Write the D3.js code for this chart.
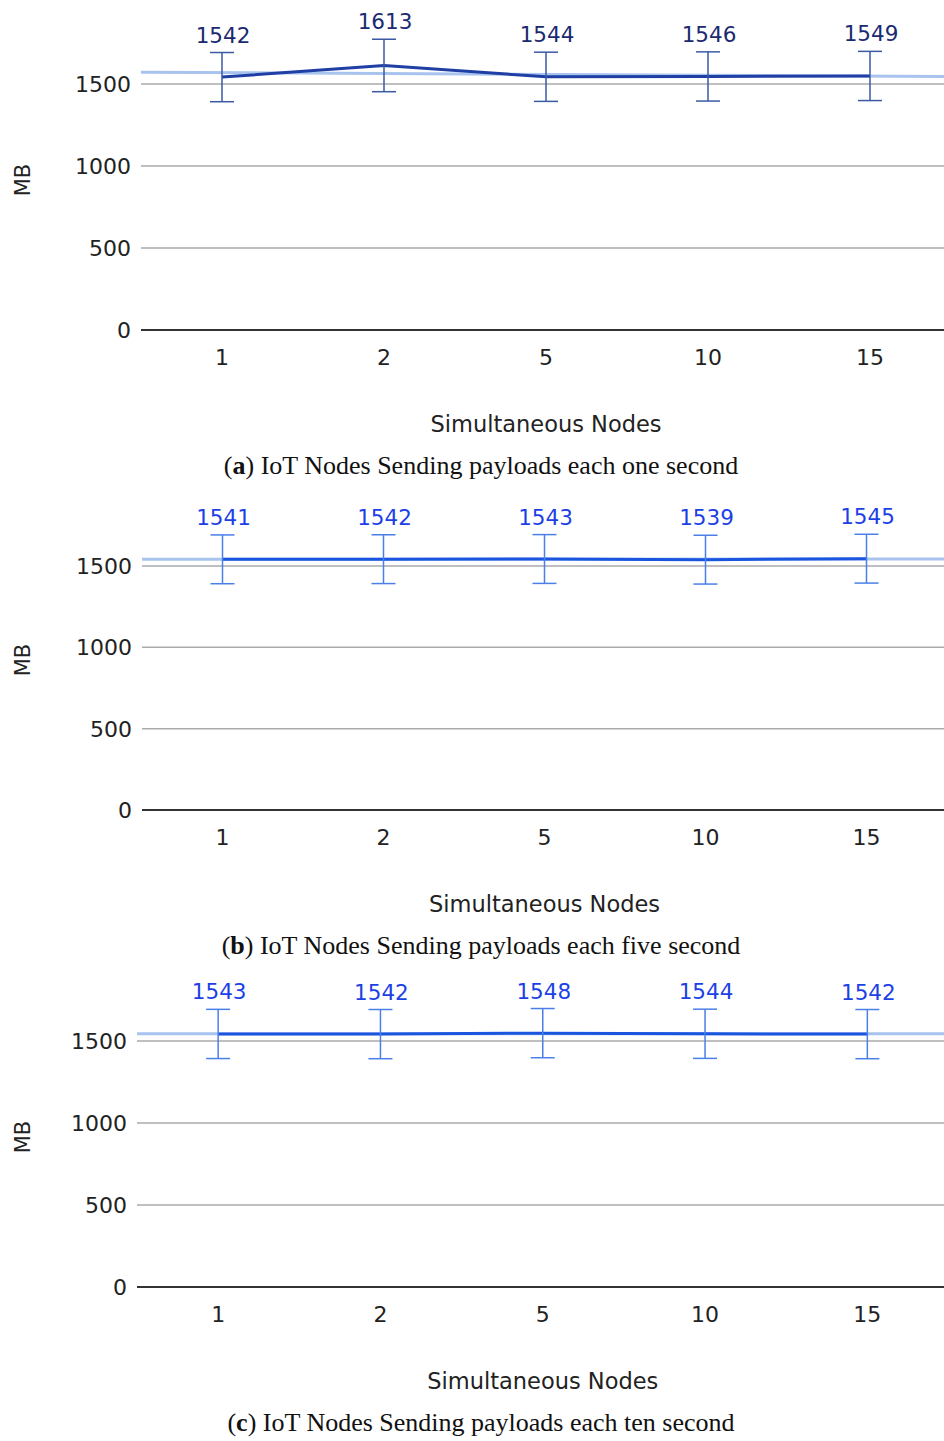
<!DOCTYPE html>
<html>
<head>
<meta charset="utf-8">
<script src="https://cdn.jsdelivr.net/npm/d3@7"></script>
<style>
  body { margin: 0; background: #fff; }
  svg { display: block; }
</style>
</head>
<body>
<div id="chart"></div>
<script>
// categories and series values
const nodes = ["1", "2", "5", "10", "15"];
const oneSecond = [1542, 1613, 1544, 1546, 1549];
const fiveSecond = [1541, 1542, 1543, 1539, 1545];
const tenSecond = [1543, 1542, 1548, 1544, 1542];
const oneSecondErr = [150, 160, 150, 150, 150];
const fiveSecondErr = [150, 150, 150, 150, 150];
const tenSecondErr = [150, 150, 150, 150, 150];
const yTicks = [0, 500, 1000, 1500];
const captions = [
    ["a", " IoT Nodes Sending payloads each one second"],
    ["b", " IoT Nodes Sending payloads each five second"],
    ["c", " IoT Nodes Sending payloads each ten second"]
];

var svgWidth = 944;
var svgHeight = 1441;

const svg = d3.select("#chart")
    .append("svg")
    .attr("width", svgWidth)
    .attr("height", svgHeight);

// one panel per sending interval
const panels = [
    { values: oneSecond, errs: oneSecondErr, caption: captions[0], zero: 330, top: 84, left: 141, step: 162,
      line: "#1f3fa4", label: "#1b2a70", err: "#3a5aa4" },
    { values: fiveSecond, errs: fiveSecondErr, caption: captions[1], zero: 810, top: 566, left: 142, step: 161,
      line: "#1a55e0", label: "#1c3fe6", err: "#4a7fe8" },
    { values: tenSecond, errs: tenSecondErr, caption: captions[2], zero: 1287, top: 1041, left: 137, step: 162.3,
      line: "#1a55e0", label: "#1c3fe6", err: "#4a7fe8" }
];

//least squares trend of the series, drawn as the light line
function trend(values) {
    const n = values.length;
    const mx = (n - 1) / 2;
    const my = d3.mean(values);
    let num = 0, den = 0;
    values.forEach((v, i) => { num += (i - mx) * (v - my); den += (i - mx) * (i - mx); });
    const slope = num / den;
    return i => my + slope * (i - mx);
}

panels.forEach(function(p) {
    const g = svg.append("g");
    const width = p.step * nodes.length;

    const x = d3.scaleBand()
        .domain(nodes)
        .range([p.left, p.left + width]);

    const y = d3.scaleLinear()
        .domain([0, 1500])
        .range([p.zero, p.top]);

    //gridlines
    g.selectAll(".grid")
        .data(yTicks)
        .enter()
        .append("line")
        .attr("x1", p.left)
        .attr("x2", p.left + width)
        .attr("y1", d => y(d))
        .attr("y2", d => y(d))
        .attr("stroke", d => d === 0 ? "#333" : "#aaa")
        .attr("stroke-width", d => d === 0 ? 2 : 1.5);

    //y tick labels
    g.selectAll(".ytick")
        .data(yTicks)
        .enter()
        .append("text")
        .attr("x", p.left - 10)
        .attr("y", d => y(d))
        .attr("dy", "0.36em")
        .attr("text-anchor", "end")
        .attr("font-family", "DejaVu Sans")
        .attr("font-size", "22px")
        .attr("fill", "#222")
        .text(d => d);

    //x tick labels
    g.selectAll(".xtick")
        .data(nodes)
        .enter()
        .append("text")
        .attr("x", d => x(d) + x.bandwidth() / 2)
        .attr("y", p.zero + 35)
        .attr("text-anchor", "middle")
        .attr("font-family", "DejaVu Sans")
        .attr("font-size", "22px")
        .attr("fill", "#222")
        .text(d => d);

    //trend line
    const t = trend(p.values);
    const tx = d3.scaleLinear().domain([0, nodes.length - 1])
        .range([x(nodes[0]) + x.bandwidth() / 2, x(nodes[nodes.length - 1]) + x.bandwidth() / 2]);
    const t0 = tx.invert(p.left);
    const t1 = tx.invert(svgWidth + 10);
    g.append("line")
        .attr("x1", tx(t0))
        .attr("x2", tx(t1))
        .attr("y1", y(t(t0)))
        .attr("y2", y(t(t1)))
        .attr("stroke", "#a9c3ef")
        .attr("stroke-width", 3);

    //series line
    const pts = p.values.map((v, i) => ({ node: nodes[i], v: v, e: p.errs[i] }));
    g.append("path")
        .datum(pts)
        .attr("fill", "none")
        .attr("stroke", p.line)
        .attr("stroke-width", 3)
        .attr("d", d3.line()
            .x(d => x(d.node) + x.bandwidth() / 2)
            .y(d => y(d.v)));

    //error bars
    const bars = g.selectAll(".err")
        .data(pts)
        .enter()
        .append("g")
        .attr("stroke", p.err)
        .attr("stroke-width", 1.5);
    bars.append("line")
        .attr("x1", d => x(d.node) + x.bandwidth() / 2)
        .attr("x2", d => x(d.node) + x.bandwidth() / 2)
        .attr("y1", d => y(d.v + d.e))
        .attr("y2", d => y(d.v - d.e));
    bars.append("line")
        .attr("x1", d => x(d.node) + x.bandwidth() / 2 - 12)
        .attr("x2", d => x(d.node) + x.bandwidth() / 2 + 12)
        .attr("y1", d => y(d.v + d.e))
        .attr("y2", d => y(d.v + d.e));
    bars.append("line")
        .attr("x1", d => x(d.node) + x.bandwidth() / 2 - 12)
        .attr("x2", d => x(d.node) + x.bandwidth() / 2 + 12)
        .attr("y1", d => y(d.v - d.e))
        .attr("y2", d => y(d.v - d.e));

    //value labels
    g.selectAll(".val")
        .data(pts)
        .enter()
        .append("text")
        .attr("x", d => x(d.node) + x.bandwidth() / 2 + 1)
        .attr("y", d => y(d.v + d.e) - 10)
        .attr("text-anchor", "middle")
        .attr("font-family", "DejaVu Sans")
        .attr("font-size", "21.5px")
        .attr("fill", p.label)
        .text(d => d.v);

    //axis titles
    g.append("text")
        .attr("transform", `translate(30, ${p.zero - 150}) rotate(-90)`)
        .attr("text-anchor", "middle")
        .attr("font-family", "DejaVu Sans")
        .attr("font-size", "21px")
        .attr("fill", "#222")
        .text("MB");

    g.append("text")
        .attr("x", p.left + width / 2)
        .attr("y", p.zero + 102)
        .attr("text-anchor", "middle")
        .attr("font-family", "DejaVu Sans")
        .attr("font-size", "22.5px")
        .attr("fill", "#222")
        .text("Simultaneous Nodes");

    //caption
    const cap = g.append("text")
        .attr("x", 481)
        .attr("y", p.zero + 144)
        .attr("text-anchor", "middle")
        .attr("font-family", "Liberation Serif")
        .attr("font-size", "26px")
        .attr("fill", "#111");
    cap.append("tspan").text("(");
    cap.append("tspan").attr("font-weight", "bold").text(p.caption[0]);
    cap.append("tspan").text(")" + p.caption[1]);
});
</script>
</body>
</html>
